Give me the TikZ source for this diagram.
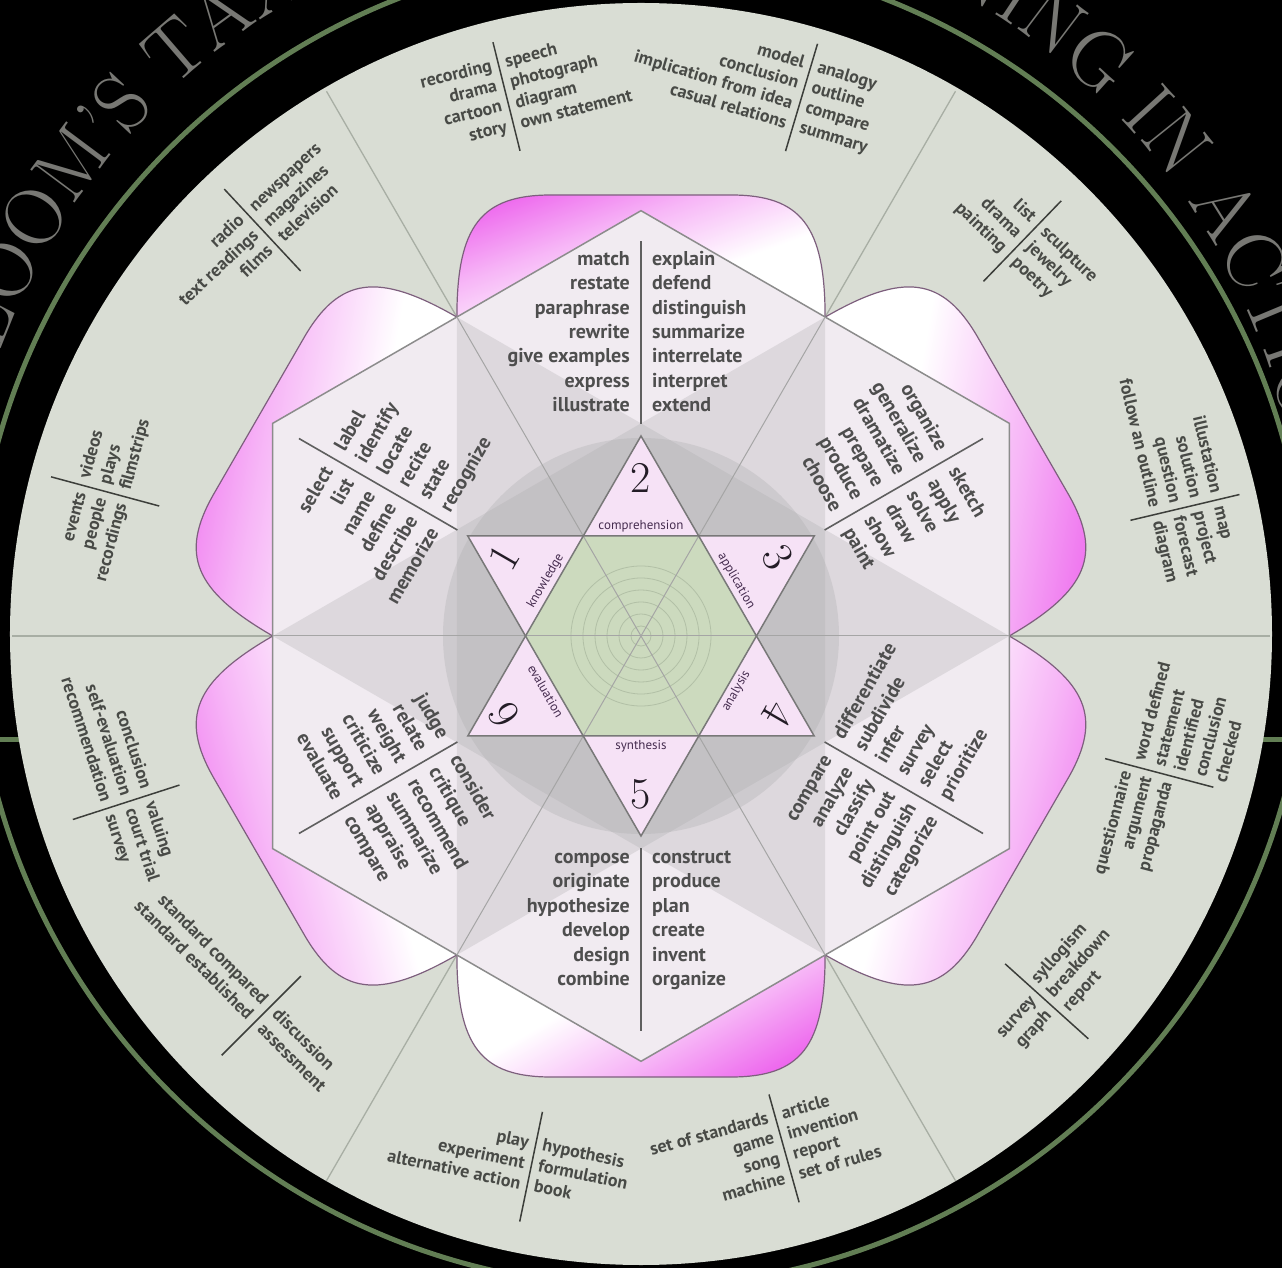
\documentclass[tikz,border=0pt]{standalone}
\usepackage{fontspec}
\newfontfamily\ptsans{PT Sans}
\usetikzlibrary{decorations.text}
\definecolor{lightbg}{RGB}{217,221,212}
\definecolor{greenring}{RGB}{98,126,84}
\definecolor{titlec}{RGB}{120,120,116}
\definecolor{rayc}{RGB}{168,174,164}
\definecolor{rayin}{RGB}{165,165,165}
\definecolor{petalline}{RGB}{125,95,125}
\definecolor{pinkc}{RGB}{236,90,236}
\definecolor{kitec}{RGB}{241,235,241}
\definecolor{hexgray}{RGB}{170,170,172}
\definecolor{hexline}{RGB}{140,140,140}
\definecolor{starpt}{RGB}{246,226,246}
\definecolor{starline}{RGB}{120,120,120}
\definecolor{greenhex}{RGB}{204,218,190}
\definecolor{ringc}{RGB}{178,192,166}
\definecolor{numc}{RGB}{35,28,38}
\definecolor{labc}{RGB}{70,45,80}
\definecolor{kwordc}{RGB}{78,78,78}
\definecolor{owordc}{RGB}{72,74,70}
\definecolor{kdivc}{RGB}{95,95,95}
\definecolor{odivc}{RGB}{60,62,58}
\pgfdeclareverticalshading{petalsh}{100bp}{color(0bp)=(white); color(40bp)=(white); color(60bp)=(pinkc!45!white); color(80bp)=(pinkc); color(100bp)=(pinkc)}
\tikzset{
  kword/.style={inner sep=0pt, text=kwordc, font=\ptsans\bfseries\fontsize{20}{20}\selectfont, text height=10.5pt, text depth=3.5pt},
  oword/.style={inner sep=0pt, text=owordc, font=\ptsans\bfseries\fontsize{18}{18}\selectfont, text height=9.5pt, text depth=3pt},
  odiv/.style={draw=odivc, line width=1.5pt},
  kdiv/.style={draw=kdivc, line width=1.6pt},
  numstyle/.style={inner sep=0pt, text=numc, font=\fontsize{44}{44}\selectfont},
  labstyle/.style={inner sep=0pt, text=labc, font=\ptsans\fontsize{13}{13}\selectfont},
}
\newcommand\kblock[5]{%
  \begin{scope}[shift={(#1)}, rotate=#2, transform shape]
    \foreach \w [count=\i from 0] in {#4} {\node[kword, anchor=east] at (-11, #3-\i*24.4) {\w};}
    \foreach \w [count=\i from 0] in {#5} {\node[kword, anchor=west] at (11, #3-\i*24.4) {\w};}
  \end{scope}}
\newcommand\ogroup[7]{%
  \begin{scope}[shift={(#1:#2)}, rotate=#3, transform shape]
    \draw[odiv] (0,-56) -- (0,56);
    \foreach \w [count=\i from 0] in {#5} {\node[oword, anchor=east] at (-7, #4-\i*21) {\w};}
    \foreach \w [count=\i from 0] in {#7} {\node[oword, anchor=west] at (7, #6-\i*21) {\w};}
  \end{scope}}
\newcommand\petal[2]{%
  \begin{scope}[rotate=#1]
    \shade[draw=petalline, line width=1.2pt, shading=petalsh, shading angle=#2]
      (318.9,-184.1) .. controls (410,-184.1) and (441,-160) .. (441,-90)
      -- (441,90) .. controls (441,160) and (410,184.1) .. (318.9,184.1) -- cycle;
  \end{scope}}
\begin{document}
\begin{tikzpicture}[x=1pt,y=1pt]
\useasboundingbox (-641,-632) rectangle (641,636);
\fill[black] (-641,-632) rectangle (641,636);
% green ring and stubs
\draw[greenring, line width=5pt] (-641,-104) -- (641,-104);
\draw[greenring, line width=5pt] (0,16) circle[radius=667];
% title
\path[decorate, decoration={text along path, text align=center, text color=titlec,
  text={|\fontsize{81}{81}\selectfont|BLOOM'S TAXONOMY OF LEARNING IN ACTION}}]
  (-9,56) ++(181.5:672) arc[start angle=181.5, end angle=-8.5, radius=672];
% light disc
\fill[lightbg] (0,2) circle[radius=631];
% outer rays
\foreach \a in {0,60,120} \draw[rayc, line width=1.3pt] (\a:629) -- (\a+180:629);
% petals
\petal{90}{20}
\petal{30}{-100}
\petal{-30}{-105}
\petal{-90}{210}
\petal{-150}{105}
\petal{150}{80}
% kites
\foreach \t in {90,30,-30,-90,-150,150}
  \fill[kitec] (0,0) -- (\t-30:368.3) -- (\t:425.3) -- (\t+30:368.3) -- cycle;
\fill[hexgray, fill opacity=0.28] (0:368.3) -- (120:368.3) -- (240:368.3) -- cycle;
\fill[hexgray, fill opacity=0.28] (60:368.3) -- (180:368.3) -- (300:368.3) -- cycle;
\fill[hexgray, fill opacity=0.3] (0,0) circle[radius=198];
\draw[hexline, line width=1.5pt] (30:425.3) -- (90:425.3) -- (150:425.3) -- (210:425.3) -- (270:425.3) -- (330:425.3) -- cycle;
\foreach \a in {0,60,...,300} \draw[rayin, line width=1pt] (0,0) -- (\a:368.3);
% kite dividers
\foreach \t in {90,30,-30,-90,-150,150} \draw[kdiv] (\t:212) -- (\t:395);
% kite words
\kblock{90:301}{0}{73.2}{match,restate,paraphrase,rewrite,give examples,express,illustrate}{explain,defend,distinguish,summarize,interrelate,interpret,extend}
\kblock{150:291}{60}{61}{select,list,name,define,describe,memorize}{label,identify,locate,recite,state,recognize}
\kblock{30:291}{-60}{61}{organize,generalize,dramatize,prepare,produce,choose}{sketch,apply,solve,draw,show,paint}
\kblock{-30:285}{60}{61}{compare,analyze,classify,point out,distinguish,categorize}{differentiate,subdivide,infer,survey,select,prioritize}
\kblock{-90:285}{0}{61}{compose,originate,hypothesize,develop,design,combine}{construct,produce,plan,create,invent,organize}
\kblock{210:285}{-60}{61}{judge,relate,weight,criticize,support,evaluate}{consider,critique,recommend,summarize,appraise,compare}
% star
\foreach \t in {90,30,-30,-90,-150,150}
  \fill[starpt] (\t:200) -- (\t-30:115.47) -- (\t+30:115.47) -- cycle;
\fill[greenhex] (0:115.47) -- (60:115.47) -- (120:115.47) -- (180:115.47) -- (240:115.47) -- (300:115.47) -- cycle;
\foreach \r in {10,22,34,46,58,70} \draw[ringc, line width=0.8pt] (0,0) circle[radius=\r];
\foreach \a in {0,60,120} \draw[rayin, line width=1pt] (\a:115.47) -- (\a+180:115.47);
\draw[starline, line width=1.5pt] (90:200) -- (210:200) -- (330:200) -- cycle;
\draw[starline, line width=1.5pt] (270:200) -- (30:200) -- (150:200) -- cycle;
% numbers
\node[numstyle, rotate=60] (n1) at (150:158) {1};
\node[numstyle] (n2) at (90:158) {2};
\node[numstyle, rotate=-60] (n3) at (30:158) {3};
\node[numstyle, rotate=-120] (n4) at (-30:158) {4};
\node[numstyle] (n5) at (-90:158) {5};
\node[numstyle, rotate=120] (n6) at (210:158) {6};
% labels
\node[labstyle, rotate=60] (l1) at (150:110) {knowledge};
\node[labstyle] (l2) at (90:110) {comprehension};
\node[labstyle, rotate=-60] (l3) at (30:110) {application};
\node[labstyle, rotate=60] (l4) at (-30:110) {analysis};
\node[labstyle] (l5) at (-90:110) {synthesis};
\node[labstyle, rotate=-60] (l6) at (210:110) {evaluation};
% outer groups
\ogroup{133}{555}{43}{21}{radio,text readings,films}{21}{newspapers,magazines,television}
\ogroup{104}{556}{14}{31.5}{recording,drama,cartoon,story}{31.5}{speech,photograph,diagram,own statement}
\ogroup{73.4}{562}{-16.6}{31.5}{model,conclusion,implication from idea,casual relations}{31.5}{analogy,outline,compare,summary}
\ogroup{46}{549}{-44}{21}{list,drama,painting}{21}{sculpture,jewelry,poetry}
\ogroup{13.3}{559}{-76.7}{31.5}{illustation,solution,question,follow an outline}{31.5}{map,project,forecast,diagram}
\ogroup{-14.8}{536}{75.2}{30}{questionnaire,argument,propaganda}{20}{word defined,statement,identified,conclusion,checked}
\ogroup{-42}{546}{48}{10.5}{survey,graph}{21}{syllogism,breakdown,report}
\ogroup{-74.4}{532}{15.6}{31.5}{set of standards,game,song,machine}{31.5}{article,invention,report,set of rules}
\ogroup{-101.7}{542}{-11.7}{21}{play,experiment,alternative action}{21}{hypothesis,formulation,book}
\ogroup{-135}{537}{-45}{10.5}{standard compared,standard established}{10.5}{discussion,assessment}
\ogroup{-162.1}{541}{-72.1}{21}{conclusion,self-evaluation,recommendation}{21}{valuing,court trial,survey}
\ogroup{164.9}{555}{74.9}{21}{events,people,recordings}{21}{videos,plays,filmstrips}
\end{tikzpicture}
\end{document}
